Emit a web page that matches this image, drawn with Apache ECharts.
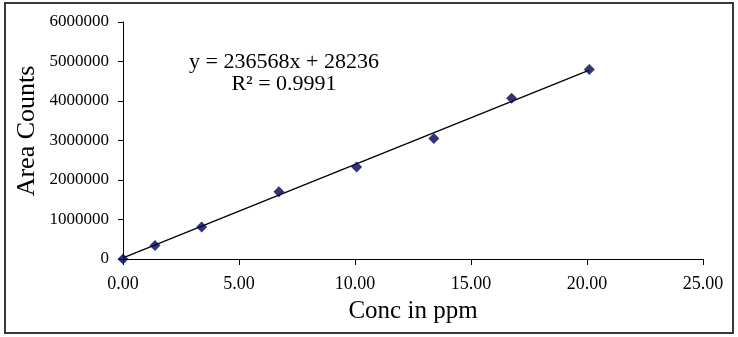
<!DOCTYPE html>
<html>
<head>
<meta charset="utf-8">
<script src="https://cdn.jsdelivr.net/npm/echarts@6/dist/echarts.min.js"></script>
<style>
html,body{margin:0;padding:0;background:#fff;}
#chart{width:738px;height:337px;}
</style>
</head>
<body>
<div id="chart"></div>
<script>
// Data
var concPpm = [0, 1.38, 3.39, 6.72, 10.07, 13.40, 16.75, 20.10];
var areaCounts = [0, 344000, 810000, 1700000, 2330000, 3050000, 4070000, 4800000];
var trendSlope = 236568;
var trendIntercept = 28236;
var equationText = 'y = 236568x + 28236';
var r2Text = 'R² = 0.9991';
var xTitle = 'Conc in ppm';
var yTitle = 'Area Counts';

var xMin = Math.min.apply(null, concPpm), xMax = Math.max.apply(null, concPpm);
var trendData = [[xMin, trendSlope * xMin + trendIntercept], [xMax, trendSlope * xMax + trendIntercept]];
var pts = concPpm.map(function (x, i) { return [x, areaCounts[i]]; });

var serif = '"Liberation Serif", "Times New Roman", serif';
var chart = echarts.init(document.getElementById('chart'), null, {renderer: 'canvas'});
chart.setOption({
  animation: false,
  backgroundColor: '#fff',
  grid: {left: 123, right: 35, top: 22, bottom: 78, containLabel: false},
  xAxis: {
    type: 'value', min: 0, max: 25, interval: 5,
    name: xTitle, nameLocation: 'middle', nameGap: 40,
    nameTextStyle: {fontFamily: serif, fontSize: 25, color: '#000'},
    axisLine: {show: true, onZero: false, lineStyle: {color: '#000', width: 1}},
    axisTick: {show: true, length: 6, lineStyle: {color: '#000'}},
    axisLabel: {fontFamily: serif, fontSize: 18, color: '#000', margin: 16,
      formatter: function (v) { return v.toFixed(2); }},
    splitLine: {show: false}
  },
  yAxis: {
    type: 'value', min: 0, max: 6000000, interval: 1000000,
    axisLine: {show: true, lineStyle: {color: '#000', width: 1}},
    axisTick: {show: true, length: 5, lineStyle: {color: '#000'}},
    axisLabel: {fontFamily: serif, fontSize: 17, color: '#000', margin: 14,
      formatter: function (v) { return String(v); }},
    splitLine: {show: false}
  },
  series: [
    {
      type: 'line', data: trendData, symbol: 'none', silent: true,
      lineStyle: {color: '#000', width: 1.3}, z: 2
    },
    {
      type: 'scatter', data: pts, symbol: 'diamond', symbolSize: 11,
      itemStyle: {color: '#000055'}, z: 3
    }
  ],
  graphic: [
    {type: 'rect', shape: {x: 5, y: 3, width: 728, height: 330},
      style: {fill: 'none', stroke: '#3a3a3a', lineWidth: 2}, silent: true, z: 100},
    {type: 'text', x: 27, y: 131, rotation: Math.PI / 2,
      style: {text: yTitle, font: '26px ' + serif, fill: '#000', align: 'center', verticalAlign: 'middle'}},
    {type: 'text', x: 284, y: 62,
      style: {text: equationText, font: '22px ' + serif, fill: '#000', align: 'center', verticalAlign: 'middle'}},
    {type: 'text', x: 284, y: 84,
      style: {text: r2Text, font: '22px ' + serif, fill: '#000', align: 'center', verticalAlign: 'middle'}}
  ]
});
</script>
</body>
</html>
